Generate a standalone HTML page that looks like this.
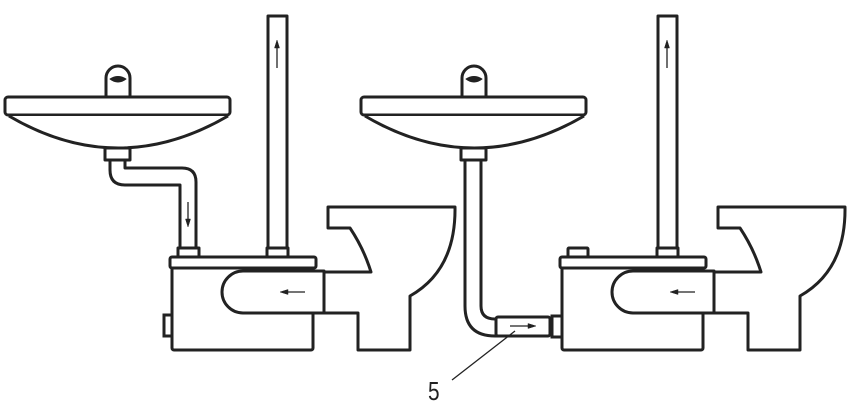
<!DOCTYPE html>
<html><head><style>html,body{margin:0;padding:0;background:#fff;}svg{display:block}</style></head><body>
<svg width="851" height="416" viewBox="0 0 851 416" xmlns="http://www.w3.org/2000/svg">
<defs>
<g id="sink" fill="#fff" stroke="#222" stroke-width="3" stroke-linejoin="round">
 <path d="M106,97 L106,78 A12,12 0 0 1 130,78 L130,97"/>
 <path d="M110,79 Q118,85 126,79 Q118,74 110,79Z" fill="#222" stroke-width="1"/>
 <rect x="5" y="97" width="225" height="18" rx="3"/>
 <path d="M9,116 Q118,180 228,116"/>
 <rect x="105" y="148" width="25" height="12"/>
</g>
<g id="unit" fill="#fff" stroke="#222" stroke-width="3" stroke-linejoin="round">
 <rect x="172" y="266" width="141" height="84" rx="2"/>
 <rect x="170" y="257" width="146" height="11" rx="2"/>
 <path d="M324,271 L243,271 A21,21 0 0 0 243,313 L324,313 Z"/>
 <path d="M305,292 L285,292" stroke-width="1.3"/>
 <path d="M280,292 L288,289.5 L288,294.5Z" fill="#222" stroke-width="0.5"/>
</g>
<g id="toilet" fill="none" stroke="#222" stroke-width="3" stroke-linejoin="round">
 <path d="M324,272 L371,272 L369,266 Q362,246 350,228 L328,228 L328,207 L455,207 Q456,270 410,296 L410,350 L358,350 L358,313 L324,313"/>
</g>
</defs>
<g fill="#fff" stroke="#222" stroke-width="3" stroke-linejoin="round">
 <path d="M110,160 L110,170 Q110,185 125,185 L180,185 L180,250 L196,250 L196,182 Q196,168 182,168 L125,168 L125,160" />
 <rect x="178" y="248" width="21" height="9"/>
 <rect x="268" y="16" width="19" height="234"/>
 <rect x="267" y="248" width="21" height="9"/>
 <rect x="658" y="16" width="19" height="234"/>
 <rect x="657" y="248" width="21" height="9"/>
 <rect x="568" y="248" width="20" height="10" rx="1"/>
 <path d="M465,160 L465,306 Q465,336 495,336 L498,336 L498,319 L495,319 Q481,319 481,306 L481,160"/>
</g>
<use href="#sink"/>
<use href="#sink" transform="translate(356,0)"/>
<use href="#toilet"/>
<use href="#toilet" transform="translate(390,0)"/>
<use href="#unit"/>
<use href="#unit" transform="translate(390,0)"/>
<g fill="#fff" stroke="#222" stroke-width="3">
 <rect x="164" y="315" width="8" height="21"/>
 <rect x="496" y="317" width="54" height="19" rx="2"/>
 <rect x="552" y="316" width="10" height="21"/>
</g>
<g stroke="#222" stroke-width="1.3" fill="#222">
 <path d="M277,68 L277,45"/><path d="M277,40 L274.5,48 L279.5,48Z" stroke-width="0.5"/>
 <path d="M667,68 L667,45"/><path d="M667,40 L664.5,48 L669.5,48Z" stroke-width="0.5"/>
 <path d="M188,202 L188,222"/><path d="M188,227 L185.5,219 L190.5,219Z" stroke-width="0.5"/>
 <path d="M510,326 L530,326"/><path d="M536,326 L528,323.5 L528,328.5Z" stroke-width="0.5"/>
 <path d="M452,380 L515,331" fill="none"/>
</g>
<text x="428" y="400" font-family="Liberation Sans, sans-serif" font-size="26" fill="#222" transform="translate(428,0) scale(0.8,1) translate(-428,0)">5</text>
</svg>
</body></html>
